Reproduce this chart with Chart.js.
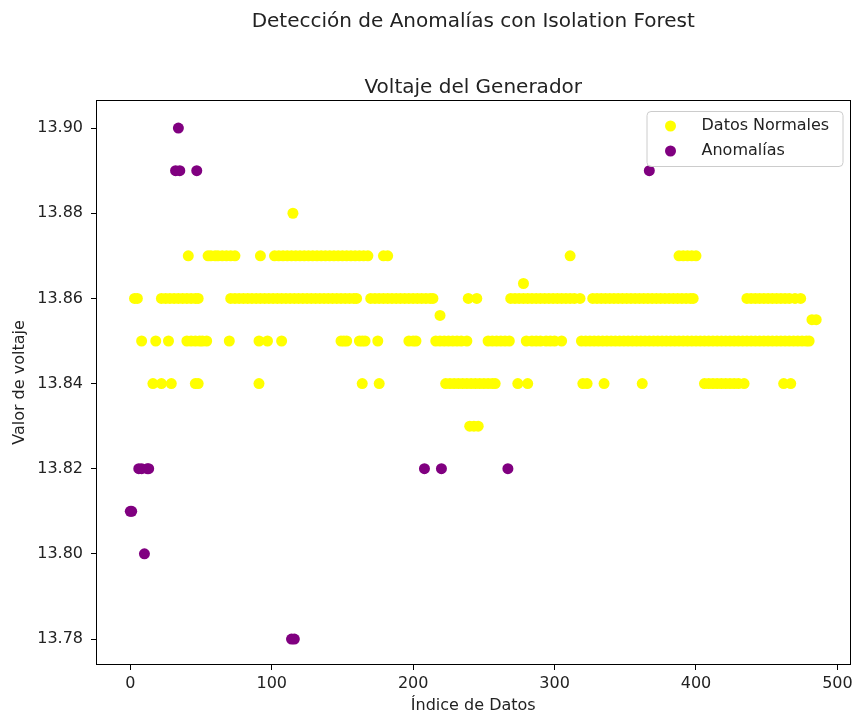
<!DOCTYPE html>
<html>
<head>
<meta charset="utf-8">
<script src="https://cdn.jsdelivr.net/npm/chart.js@4"></script>
<style>
  html, body { margin: 0; padding: 0; background: #fff; overflow: hidden; }
  canvas { display: block; }
</style>
</head>
<body>
<canvas id="chart" width="856" height="715"></canvas>
<script>
// index positions of the normal points, one list per voltage level
const idx1388 = [115];
const idx1387 = [41, 55, 57, 60, 62, 65, 68, 71, 74, 92, 102, 105, 108, 111, 114, 117, 120, 123, 126, 129,
  132, 135, 138, 141, 144, 147, 150, 153, 156, 159, 162, 165, 168, 179, 182, 311, 388, 391, 394, 397, 400];
const idx13863 = [278];
const idx1386 = [3, 5, 22, 25, 28, 31, 34, 37, 40, 43, 46, 48, 71, 74, 77, 80, 83, 86, 89, 92, 95, 98, 101,
  104, 107, 110, 113, 116, 119, 122, 125, 128, 131, 134, 137, 140, 143, 146, 149, 152, 155, 158, 160,
  170, 173, 176, 179, 182, 185, 188, 191, 194, 197, 200, 203, 206, 209, 212, 214, 239, 245,
  269, 272, 275, 278, 281, 284, 287, 290, 293, 296, 299, 302, 305, 308, 311, 314, 318,
  327, 330, 333, 336, 339, 342, 345, 348, 351, 354, 357, 360, 363, 366, 369, 372, 375, 378, 381, 384,
  387, 390, 393, 396, 398, 436, 439, 442, 445, 448, 451, 454, 457, 460, 463, 466, 470, 474];
const idx13856 = [219];
const idx13855 = [482, 485];
const idx1385 = [8, 18, 27, 40, 43, 46, 49, 51, 54, 70, 91, 97, 107, 149, 151, 153, 162, 164, 166, 175,
  197, 200, 202, 216, 219, 222, 225, 228, 231, 234, 238, 253, 256, 259, 262, 265, 268,
  280, 284, 287, 290, 294, 297, 300, 305, 319, 322, 325, 328, 331, 334, 337, 340, 343, 346, 349, 352, 355, 358,
  361, 364, 367, 370, 373, 376, 379, 382, 385, 388, 391, 394, 397, 400, 403, 406, 409, 412, 415, 418,
  421, 424, 427, 430, 433, 436, 439, 442, 445, 448, 451, 454, 457, 460, 463, 466, 469, 472, 475, 478, 480];
const idx1384 = [16, 22, 29, 46, 48, 91, 164, 176, 223, 226, 229, 232, 235, 238, 241, 244, 247, 250, 253,
  256, 258, 274, 281, 320, 323, 335, 362, 406, 409, 412, 415, 418, 421, 424, 427, 430, 434, 462, 467];
const idx1383 = [240, 243, 246];

const normalLevels = [13.88, 13.87, 13.8635, 13.86, 13.856, 13.855, 13.85, 13.84, 13.83];
const normalIndex = [idx1388, idx1387, idx13863, idx1386, idx13856, idx13855, idx1385, idx1384, idx1383];

// anomalies found by the isolation forest
const anomalyIdx = [0, 1, 6, 8, 12, 13, 10, 32, 35, 34, 47, 114, 116, 208, 220, 267, 367];
const anomalyVal = [13.81, 13.81, 13.82, 13.82, 13.82, 13.82, 13.80, 13.89, 13.89, 13.90, 13.89,
  13.78, 13.78, 13.82, 13.82, 13.82, 13.89];

const xTicks = [0, 100, 200, 300, 400, 500];
const yTicks = [13.78, 13.80, 13.82, 13.84, 13.86, 13.88, 13.90];

const YELLOW = '#ffff00';
const PURPLE = '#800080';
const TEXT = '#222';

const normalPoints = normalIndex.flatMap((list, i) => list.map(x => ({ x: x, y: normalLevels[i] })));
const anomalyPoints = anomalyIdx.map((x, i) => ({ x: x, y: anomalyVal[i] }));

Chart.defaults.font.family = "'DejaVu Sans', sans-serif";
Chart.defaults.color = TEXT;

// top/right spines like matplotlib
const frame = {
  id: 'frame',
  afterDatasetsDraw(chart) {
    const { ctx, chartArea: a } = chart;
    ctx.save();
    ctx.strokeStyle = '#000';
    ctx.lineWidth = 1;
    ctx.strokeRect(Math.round(a.left) + 0.5, Math.round(a.top) + 0.5,
      Math.round(a.right - a.left) - 1, Math.round(a.bottom - a.top) - 1);
    ctx.restore();
  }
};

// legend box in upper right corner of the axes
const legendBox = {
  id: 'legendBox',
  afterDraw(chart) {
    const { ctx, chartArea: a } = chart;
    const w = 196, h = 55;
    const x = a.right - w - 8, y = a.top + 11;
    ctx.save();
    ctx.beginPath();
    ctx.roundRect(x + 0.5, y + 0.5, w, h, 4);
    ctx.fillStyle = 'rgba(255,255,255,0.8)';
    ctx.fill();
    ctx.strokeStyle = '#cccccc';
    ctx.lineWidth = 1;
    ctx.stroke();

    const entries = [
      { label: 'Datos Normales', color: YELLOW },
      { label: 'Anomalías', color: PURPLE }
    ];
    ctx.font = "16px 'DejaVu Sans'";
    ctx.textBaseline = 'middle';
    ctx.textAlign = 'left';
    entries.forEach((e, i) => {
      const cy = y + 15 + i * 25;
      ctx.beginPath();
      ctx.arc(x + 24, cy, 5.5, 0, Math.PI * 2);
      ctx.fillStyle = e.color;
      ctx.fill();
      ctx.fillStyle = TEXT;
      ctx.fillText(e.label, x + 55, cy);
    });
    ctx.restore();
  }
};

new Chart(document.getElementById('chart'), {
  type: 'scatter',
  data: {
    datasets: [
      {
        label: 'Datos Normales',
        data: normalPoints,
        backgroundColor: YELLOW,
        borderWidth: 0,
        pointRadius: 5.5
      },
      {
        label: 'Anomalías',
        data: anomalyPoints,
        backgroundColor: PURPLE,
        borderWidth: 0,
        pointRadius: 5.5
      }
    ]
  },
  options: {
    responsive: false,
    devicePixelRatio: 1,
    animation: false,
    events: [],
    layout: { padding: { left: 0, right: 1, top: 0, bottom: 0 } },
    plugins: {
      legend: { display: false },
      tooltip: { enabled: false },
      title: {
        display: true,
        text: 'Detección de Anomalías con Isolation Forest',
        fullSize: false,
        color: TEXT,
        font: { size: 20, weight: 'normal' },
        padding: { top: 10, bottom: 42 }
      },
      subtitle: {
        display: true,
        text: 'Voltaje del Generador',
        fullSize: false,
        color: TEXT,
        font: { size: 20, weight: 'normal' },
        padding: { top: 0, bottom: 0 }
      }
    },
    scales: {
      x: {
        type: 'linear',
        min: -24.25,
        max: 509.25,
        grid: { display: true, drawOnChartArea: false, drawTicks: true, tickLength: 5, tickColor: '#000' },
        border: { display: false },
        ticks: {
          padding: 4,
          font: { size: 16 },
          color: TEXT,
          callback: v => String(v)
        },
        title: {
          display: true,
          text: 'Índice de Datos',
          font: { size: 16 },
          color: TEXT,
          padding: { top: 0, bottom: 0 }
        },
        afterBuildTicks: s => { s.ticks = xTicks.map(v => ({ value: v })); },
        afterFit: s => {
          s.height = 50;
          s.paddingLeft = 0; s.paddingRight = 0;
        }
      },
      y: {
        type: 'linear',
        min: 13.7739,
        max: 13.9066,
        grid: { display: true, drawOnChartArea: false, drawTicks: true, tickLength: 5, tickColor: '#000' },
        border: { display: false },
        ticks: {
          padding: 8,
          font: { size: 16 },
          color: TEXT,
          callback: v => Number(v).toFixed(2)
        },
        title: {
          display: true,
          text: 'Valor de voltaje',
          font: { size: 16 },
          color: TEXT,
          padding: { top: 10, bottom: 0 }
        },
        afterBuildTicks: s => { s.ticks = yTicks.map(v => ({ value: v })); },
        afterFit: s => {
          s.width = 96;
          s.paddingTop = 0; s.paddingBottom = 0;
        }
      }
    }
  },
  plugins: [frame, legendBox]
});
</script>
</body>
</html>
